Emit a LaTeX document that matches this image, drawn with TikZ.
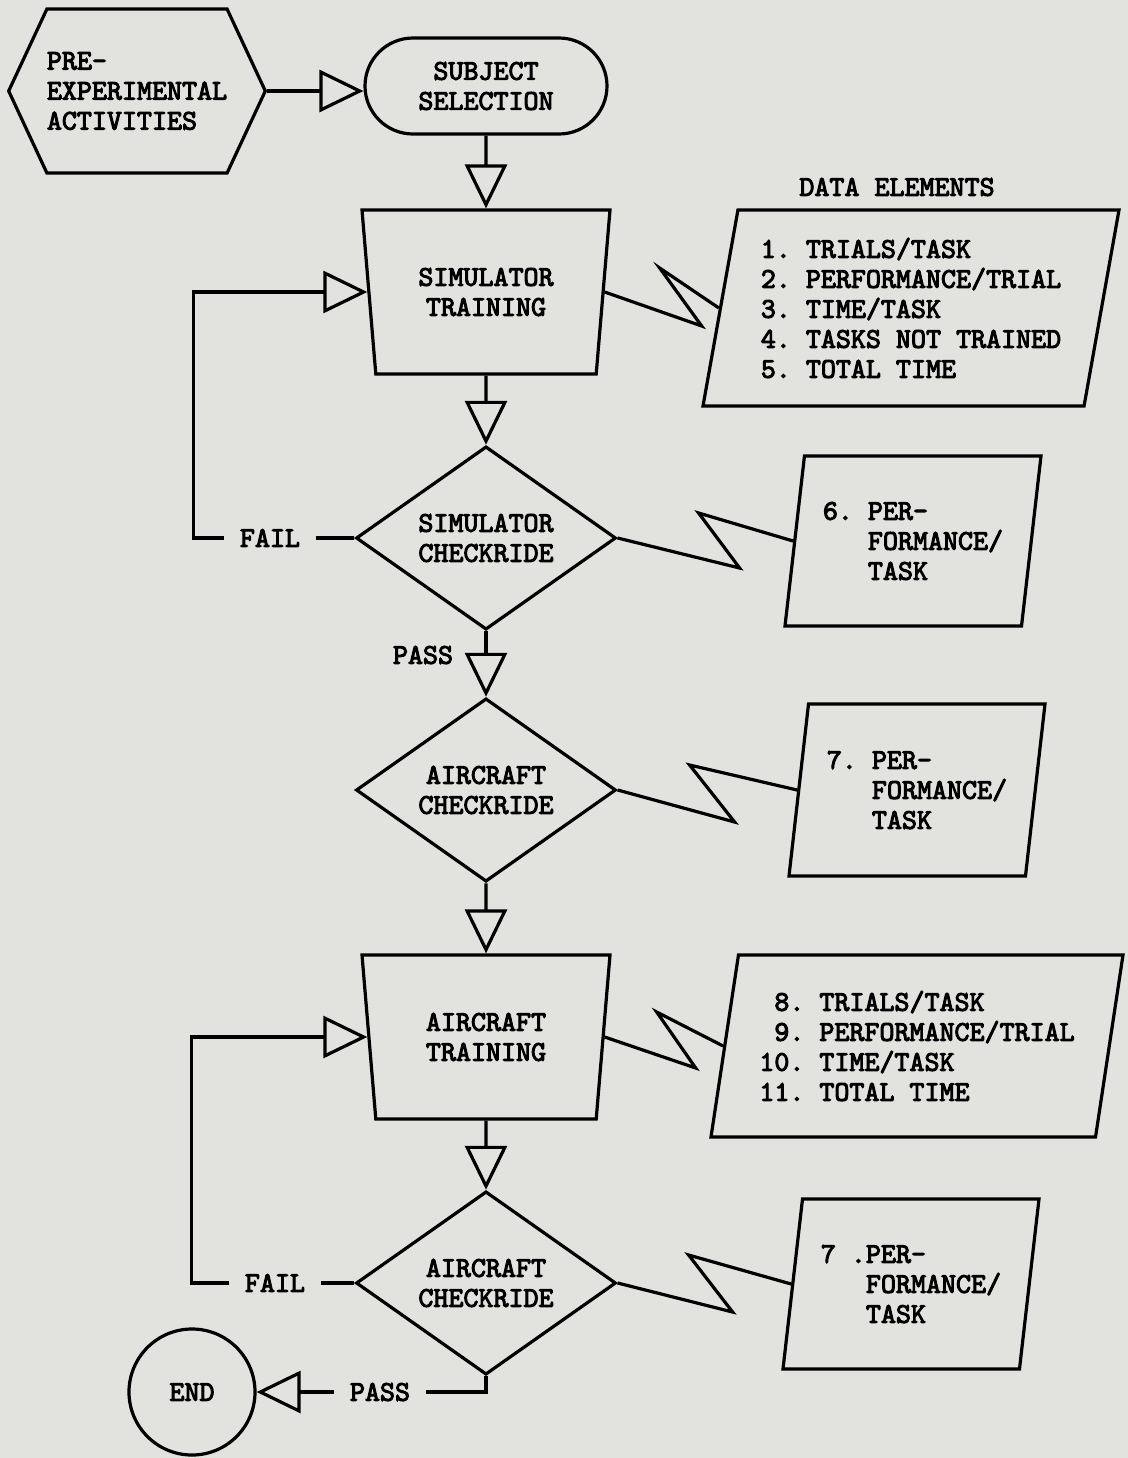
\documentclass[tikz,border=0pt]{standalone}
\usepackage{fontspec}
\newfontfamily\typer{lmmono10-regular.otf}[FakeBold=3.5]
\usetikzlibrary{arrows.meta,shapes.geometric,shapes.misc,shapes.symbols}
\definecolor{paper}{RGB}{226,226,223}

\begin{document}
\begin{tikzpicture}[x=0.5pt,y=-0.5pt,
  every node/.style={font=\typer\fontsize{14.3pt}{15pt}\selectfont,inner sep=0pt},
  box/.style={draw,line width=1.6pt,align=center},
  link/.style={line width=1.6pt},
  flow/.style={link,-{Triangle[open,length=22pt,width=21pt]}},
  tag/.style={inner xsep=8pt},
  task/.style={box,trapezium,trapezium left angle=106,trapezium right angle=106,
    trapezium stretches body,minimum width=124pt,minimum height=82pt},
  check/.style={box,diamond,minimum width=130pt,minimum height=86pt},
  datum/.style={box,trapezium,trapezium left angle=76,trapezium right angle=104,
    trapezium stretches body,align=left}]
  \fill[paper] (0,0) rectangle (1128,1458);

  % Main column
  \node[box,signal,signal to=east and west,signal pointer angle=130,
    minimum width=126pt,minimum height=82pt,align=left] (pre) at (137,91)
    {PRE-\\EXPERIMENTAL\\ACTIVITIES};
  \node[box,rounded rectangle,minimum width=121pt,minimum height=48pt] (sel) at (486,86)
    {SUBJECT\\SELECTION};
  \node[task] (simtrain) at (486,292) {SIMULATOR\\TRAINING};
  \node[check] (simchk) at (486,538) {SIMULATOR\\CHECKRIDE};
  \node[check,minimum height=87pt] (airchk) at (486,790) {AIRCRAFT\\CHECKRIDE};
  \node[task] (airtrain) at (486,1037) {AIRCRAFT\\TRAINING};
  \node[check] (airchk2) at (486,1283) {AIRCRAFT\\CHECKRIDE};
  \node[box,circle,minimum size=63pt] (stop) at (192,1392) {END};

  \node[tag] (fail1) at (270,538) {FAIL};
  \node[tag] (pass1) at (423,655) {PASS};
  \node[tag] (fail2) at (275,1283) {FAIL};
  \node[tag] (pass2) at (380,1392) {PASS};

  % Data elements
  \node (title) at (897,187) {DATA ELEMENTS};
  \node[datum,minimum width=208pt,minimum height=98pt] (d1) at (911,308)
    {1.~TRIALS/TASK\\2.~PERFORMANCE/TRIAL\\3.~TIME/TASK\\4.~TASKS NOT TRAINED\\5.~TOTAL TIME};
  \node[datum,minimum width=128pt,minimum height=85pt] (d6) at (913,541)
    {6.~PER-\\\hphantom{6.~}FORMANCE/\\\hphantom{6.~}TASK};
  \node[datum,minimum width=128pt,minimum height=86pt] (d7) at (917,790)
    {7.~PER-\\\hphantom{7.~}FORMANCE/\\\hphantom{7.~}TASK};
  \node[datum,minimum width=206pt,minimum height=91pt] (d8) at (917,1046)
    {\hphantom{1}8.~TRIALS/TASK\\\hphantom{1}9.~PERFORMANCE/TRIAL\\10.~TIME/TASK\\11.~TOTAL TIME};
  \node[datum,minimum width=128pt,minimum height=85pt] (d7b) at (911,1284)
    {7~.PER-\\\hphantom{7~.}FORMANCE/\\\hphantom{7~.}TASK};

  \draw[flow] (pre.east) -- (pre.east -| sel.west);
  \draw[flow] (sel) -- (simtrain);
  \draw[flow] (simtrain) -- (simchk);
  \draw[flow] (simchk) -- (airchk);
  \draw[flow] (airchk) -- (airtrain);
  \draw[flow] (airtrain) -- (airchk2);

  % Fail loops and exit
  \draw[link] (simchk.west) -- (fail1.east);
  \draw[flow] (fail1.west) -- ++(-30,0) |- (simtrain.west);
  \draw[link] (airchk2.west) -- (fail2.east);
  \draw[flow] (fail2.west) -- ++(-37,0) |- (airtrain.west);
  \draw[link] (airchk2.south) |- (pass2.east);
  \draw[flow] (pass2.west) -- (stop);

  % Zigzag links to the data boxes
  \draw[link] (simtrain.east) -- ++(97,34) -- ++(-42,-58) -- (d1.west);
  \draw[link] (simchk.east) -- ++(122,30) -- ++(-41,-55) -- (d6.west);
  \draw[link] (airchk.east) -- ++(117,32) -- ++(-45,-57) -- (d7.west);
  \draw[link] (airtrain.east) -- ++(91,31) -- ++(-39,-56) -- (d8.west);
  \draw[link] (airchk2.east) -- ++(115,29) -- ++(-44,-57) -- (d7b.west);
\end{tikzpicture}
\end{document}
